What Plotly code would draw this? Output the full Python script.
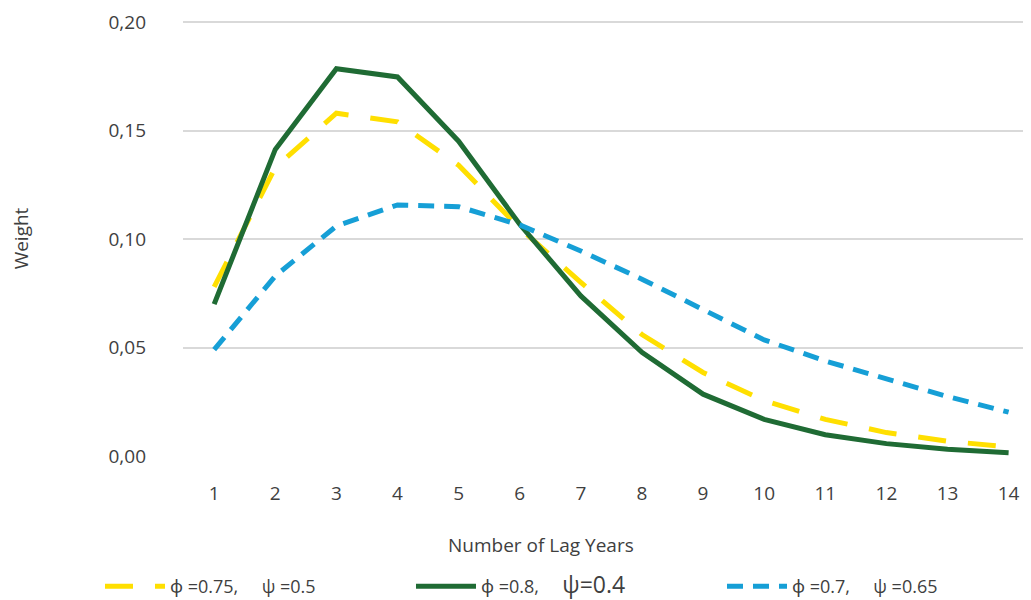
import plotly.graph_objects as go

lag_years = list(range(1, 15))

# phi=0.75, psi=0.5
w_075_05 = [0.078, 0.133, 0.158, 0.154, 0.134, 0.105, 0.080, 0.056, 0.0385, 0.0255,
            0.0169, 0.0108, 0.0068, 0.0042]
# phi=0.8, psi=0.4
w_08_04 = [0.070, 0.1413, 0.1785, 0.1747, 0.1451, 0.1068, 0.0738, 0.0478, 0.0285, 0.0169,
           0.0098, 0.0057, 0.0031, 0.0015]
# phi=0.7, psi=0.65
w_07_065 = [0.049, 0.083, 0.106, 0.1157, 0.1149, 0.1065, 0.0945, 0.0815, 0.0675, 0.0535,
            0.0438, 0.0354, 0.0274, 0.0202]

y_ticks = [0.0, 0.05, 0.10, 0.15, 0.20]

font_family = "Open Sans, Noto Sans, sans-serif"
text_color = "#3F3F3F"

fig = go.Figure()
fig.add_trace(go.Scatter(
    x=lag_years, y=w_075_05, mode="lines",
    name="ϕ =0.75,     ψ =0.5",
    line=dict(color="#FFDF00", width=5, dash="28px,22px"),
))
fig.add_trace(go.Scatter(
    x=lag_years, y=w_08_04, mode="lines",
    name="ϕ =0.8,     <span style='font-size:23px'>ψ=0.4</span>",
    line=dict(color="#1F6B34", width=5),
))
fig.add_trace(go.Scatter(
    x=lag_years, y=w_07_065, mode="lines",
    name="ϕ =0.7,     ψ =0.65",
    line=dict(color="#169FD6", width=5, dash="16px,10px"),
))

# page body has an 8px margin, so the figure is a bit smaller than the window
fig.update_layout(
    width=1023, height=592,
    paper_bgcolor="white", plot_bgcolor="white",
    separators=",.",
    font=dict(family=font_family, size=19, color=text_color),
    margin=dict(l=175, r=1, t=13, b=144, autoexpand=False),
    showlegend=True,
    legend=dict(
        orientation="h", x=-0.098, xanchor="left", y=-0.3, yanchor="middle",
        font=dict(size=18, color=text_color),
        entrywidth=236, entrywidthmode="pixels",
        itemwidth=60, tracegroupgap=0,
    ),
)

# x title sits left of the plot centre in the original, so place it by hand
fig.add_annotation(
    text="Number of Lag Years", xref="paper", yref="paper",
    x=0.423, y=-0.205, xanchor="center", yanchor="middle",
    showarrow=False, font=dict(size=19, color=text_color),
)

fig.update_xaxes(
    range=[0.49, 14.35], tickmode="array", tickvals=lag_years,
    ticktext=[str(v) for v in lag_years],
    showgrid=False, zeroline=False, showline=False, ticks="",
    ticklabelstandoff=24,
)
fig.update_yaxes(
    range=[0, 0.2005], tickmode="array", tickvals=y_ticks, tickformat=".2f",
    showgrid=True, gridcolor="#D9D9D9", gridwidth=1.5,
    zeroline=False, showline=False, ticks="",
    ticklabelstandoff=36, ticklabeloverflow="allow",
    title=dict(text="Weight", standoff=74, font=dict(size=19)),
)

fig.write_html("out.html")
